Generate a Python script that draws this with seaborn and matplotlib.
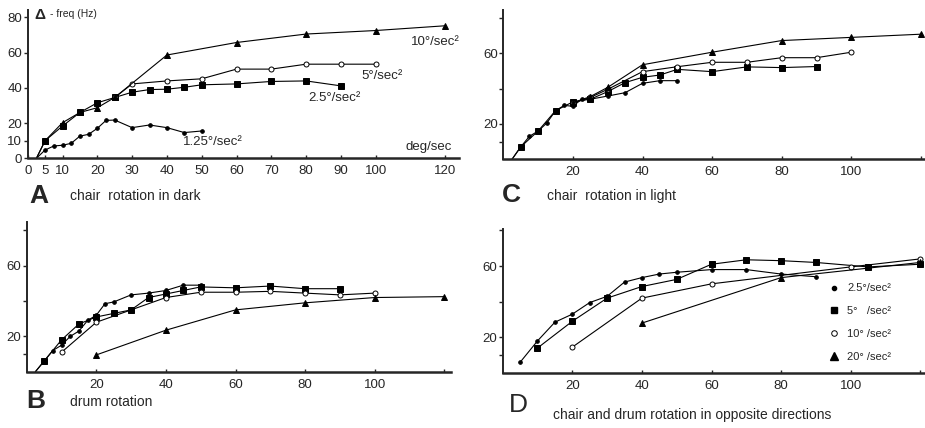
import matplotlib
matplotlib.use("Agg")
import matplotlib.pyplot as plt
from matplotlib.lines import Line2D
import seaborn as sns
import pandas as pd

sns.set_style("ticks")
plt.rcParams['font.family'] = ['Liberation Sans', 'DejaVu Sans']

# ---------------- data ----------------
# Panel A: chair rotation in dark
A_125_x = [2.5, 5, 7.5, 10, 12.5, 15, 17.5, 20, 22.5, 25, 30, 35, 40, 45, 50]
A_125_y = [0, 4.7, 7, 7.4, 8.5, 12.6, 13.6, 17, 21.5, 21.7, 17.4, 18.9, 17.4, 14.6, 15.5]
A_25_x = [2.5, 5, 10, 15, 20, 25, 30, 35, 40, 45, 50, 60, 70, 80, 90]
A_25_y = [0, 10, 18.3, 26, 31.5, 34.5, 37.5, 39, 39.2, 40.3, 41.7, 42.2, 43.6, 43.9, 41.1]
A_5_x = [25, 30, 40, 50, 60, 70, 80, 90, 100]
A_5_y = [34.5, 42.2, 43.9, 45.1, 50.6, 50.6, 53.4, 53.4, 53.4]
A_10_x = [2.5, 5, 10, 15, 20, 25, 40, 60, 80, 100, 120]
A_10_y = [0, 10, 20.2, 26, 28.7, 34.5, 58.6, 65.7, 70.5, 72.5, 75.2]

# Panel C: chair rotation in light
C_125_x = [2.5, 5, 7.5, 10, 12.5, 15, 17.5, 20, 22.5, 25, 30, 35, 40, 45, 50]
C_125_y = [0, 7, 13, 16, 20.5, 27.5, 30.5, 30, 34, 34, 35.8, 37.7, 43, 44.5, 44.5]
C_25_x = [2.5, 5, 10, 15, 20, 25, 30, 35, 40, 45, 50, 60, 70, 80, 90]
C_25_y = [0, 7, 16, 27.5, 32.5, 34, 38.3, 43.4, 46.4, 47.7, 50.9, 49.6, 52.3, 51.9, 52.5]
C_5_x = [20, 25, 30, 40, 50, 60, 70, 80, 90, 100]
C_5_y = [32, 35, 39.6, 49.6, 52.4, 54.9, 54.9, 57.5, 57.5, 60.6]
C_10_x = [20, 25, 30, 40, 60, 80, 100, 120]
C_10_y = [32, 35.5, 40.7, 53.5, 60.6, 67.2, 69, 70.8]

# Panel B: drum rotation
B_25_x = [2.5, 5, 7.5, 10, 12.5, 15, 17.5, 20, 22.5, 25, 30, 35, 40, 45, 50]
B_25_y = [0, 6, 12, 15, 20, 23, 29, 32, 38.5, 39.5, 43.5, 44.5, 46, 49, 49]
B_5_x = [2.5, 5, 10, 15, 20, 25, 30, 35, 40, 45, 50, 60, 70, 80, 90]
B_5_y = [0, 6, 18, 27, 31, 33, 35, 42, 44, 46, 48, 47.5, 48.5, 47, 47]
B_10_x = [10, 20, 40, 50, 60, 70, 80, 90, 100]
B_10_y = [11, 28, 42, 45, 45, 45.5, 44.5, 43.5, 44.5]
B_20_x = [20, 40, 60, 80, 100, 120]
B_20_y = [9.5, 23.5, 35, 39, 42, 42.5]

# Panel D: chair and drum rotation in opposite directions
D_25_x = [5, 10, 15, 20, 25, 30, 35, 40, 45, 50, 60, 70, 80, 90]
D_25_y = [6, 18, 28.5, 33, 39.5, 43, 51, 53.5, 55.5, 56.5, 58, 58, 55.5, 54]
D_5_x = [10, 20, 30, 40, 50, 60, 70, 80, 90, 105, 120]
D_5_y = [14, 29, 42, 48.5, 52.5, 61, 63.5, 63, 62, 59.5, 61]
D_10_x = [20, 40, 60, 100, 120]
D_10_y = [14.5, 42, 50, 59.5, 64]
D_20_x = [40, 80, 120]
D_20_y = [28, 53.5, 62]

legend_labels = ["2.5°/sec²", "5°   /sec²", "10° /sec²", "20° /sec²"]
A_curve_labels = ["10°/sec²", "5°/sec²", "2.5°/sec²", "1.25°/sec²"]

# marker styles
STY = {
    'dot': dict(marker='o', markersize=2.6, markerfacecolor='black'),
    'sq': dict(marker='s', markersize=4.6, markerfacecolor='black'),
    'circ': dict(marker='o', markersize=3.6, markerfacecolor='white'),
    'tri': dict(marker='^', markersize=3.8, markerfacecolor='black'),
}

W, H = 925, 428
fig = plt.figure(figsize=(W / 100, H / 100), dpi=100)


def axes_px(left, bottom_px, xmax, ymax, sx=3.48, sy=1.766):
    # left: pixel x of x=0; bottom_px: pixel y (from top) of y=0
    w = xmax * sx
    h = ymax * sy
    ax = fig.add_axes([left / W, (H - bottom_px) / H, w / W, h / H])
    ax.set_xlim(0, xmax)
    ax.set_ylim(0, ymax)
    return ax


def draw(ax, xs, ys, sty):
    df = pd.DataFrame({'x': xs, 'y': ys})
    # the starting point at zero response carries no marker
    every = [i for i, v in enumerate(ys) if v > 0]
    sns.lineplot(data=df, x='x', y='y', ax=ax, color='black', linewidth=0.8,
                 markeredgecolor='black', markeredgewidth=0.7, estimator=None,
                 sort=False, clip_on=False, markevery=every, **STY[sty])


def style(ax, xt, xtl, yt, ytl):
    sns.despine(ax=ax)
    ax.spines['left'].set_linewidth(1.4)
    ax.spines['bottom'].set_linewidth(1.8)
    ax.set_xticks(xt)
    ax.set_xticklabels(xtl)
    ax.set_yticks(yt)
    ax.set_yticklabels(ytl)
    ax.tick_params(axis='x', direction='in', length=2.5, width=1, pad=5, labelsize=9.5)
    ax.tick_params(axis='y', direction='out', length=3, width=1, pad=1, labelsize=9.5)
    ax.set_xlabel('')
    ax.set_ylabel('')


# ---------------- Panel A ----------------
axA = axes_px(27.7, 158.3, 124, 84, sy=1.7625)
draw(axA, A_125_x, A_125_y, 'dot')
draw(axA, A_25_x, A_25_y, 'sq')
draw(axA, A_5_x, A_5_y, 'circ')
draw(axA, A_10_x, A_10_y, 'tri')
xtA = [0, 5, 10, 20, 30, 40, 50, 60, 70, 80, 90, 100, 120]
style(axA, xtA, [str(v) for v in xtA], [0, 10, 20, 40, 60, 80], ['0', '10', '20', '40', '60', '80'])
axA.text(110, 66, A_curve_labels[0], fontsize=9.5, va='center', ha='left')
axA.text(96, 46.5, A_curve_labels[1], fontsize=9.5, va='center', ha='left')
axA.text(80.5, 34, A_curve_labels[2], fontsize=9.5, va='center', ha='left')
axA.text(44.5, 9, A_curve_labels[3], fontsize=9.5, va='center', ha='left')
axA.text(122, 6.6, "deg/sec", fontsize=9.5, va='center', ha='right')
axA.text(2.0, 81.5, "Δ", fontsize=11, fontweight='bold', va='center', ha='left')
axA.text(6.4, 82, "- freq (Hz)", fontsize=7.5, va='center', ha='left')

# ---------------- Panel C ----------------
axC = axes_px(503.3, 159.3, 121, 84.5, sy=1.767)
draw(axC, C_125_x, C_125_y, 'dot')
draw(axC, C_25_x, C_25_y, 'sq')
draw(axC, C_5_x, C_5_y, 'circ')
draw(axC, C_10_x, C_10_y, 'tri')
style(axC, [20, 40, 60, 80, 100, 120], ['20', '40', '60', '80', '100', ''],
      [10, 20, 40, 60, 80], ['', '20', '', '60', ''])

# ---------------- Panel B ----------------
axB = axes_px(26.7, 371.7, 122, 85, sy=1.766)
draw(axB, B_25_x, B_25_y, 'dot')
draw(axB, B_5_x, B_5_y, 'sq')
draw(axB, B_10_x, B_10_y, 'circ')
draw(axB, B_20_x, B_20_y, 'tri')
style(axB, [20, 40, 60, 80, 100, 120], ['20', '40', '60', '80', '100', ''],
      [10, 20, 40, 60, 80], ['', '20', '', '60', ''])

# ---------------- Panel D ----------------
axD = axes_px(502.7, 373, 121, 80.5, sy=1.783)
draw(axD, D_25_x, D_25_y, 'dot')
draw(axD, D_5_x, D_5_y, 'sq')
draw(axD, D_10_x, D_10_y, 'circ')
draw(axD, D_20_x, D_20_y, 'tri')
style(axD, [20, 40, 60, 80, 100, 120], ['20', '40', '60', '80', '100', ''],
      [10, 20, 40, 60, 80], ['', '20', '', '60', ''])
handles = [
    Line2D([], [], linestyle='none', color='black', marker='o', markersize=3, markerfacecolor='black'),
    Line2D([], [], linestyle='none', color='black', marker='s', markersize=4.5, markerfacecolor='black'),
    Line2D([], [], linestyle='none', color='black', marker='o', markersize=4, markerfacecolor='white', markeredgewidth=0.7),
    Line2D([], [], linestyle='none', color='black', marker='^', markersize=6, markerfacecolor='black'),
]
axD.legend(handles, legend_labels, loc='upper left', bbox_to_anchor=(0.765, 0.655),
           frameon=False, fontsize=8, handlelength=0.8, handletextpad=0.8,
           labelspacing=1.15, borderaxespad=0)

# ---------------- panel letters and titles ----------------
def ftext(x, y, s, **kw):
    fig.text(x / W, 1 - y / H, s, va='baseline', ha='left', **kw)

ftext(29, 203, "A", fontsize=19, fontweight='bold')
ftext(70, 200, "chair  rotation in dark", fontsize=10)
ftext(26, 408, "B", fontsize=19, fontweight='bold')
ftext(70, 406, "drum rotation", fontsize=10)
ftext(502, 202, "C", fontsize=19, fontweight='bold')
ftext(547, 200, "chair  rotation in light", fontsize=10)
ftext(509, 412, "D", fontsize=19)
ftext(553, 419, "chair and drum rotation in opposite directions", fontsize=10)

fig.savefig("out.png", dpi=100)
